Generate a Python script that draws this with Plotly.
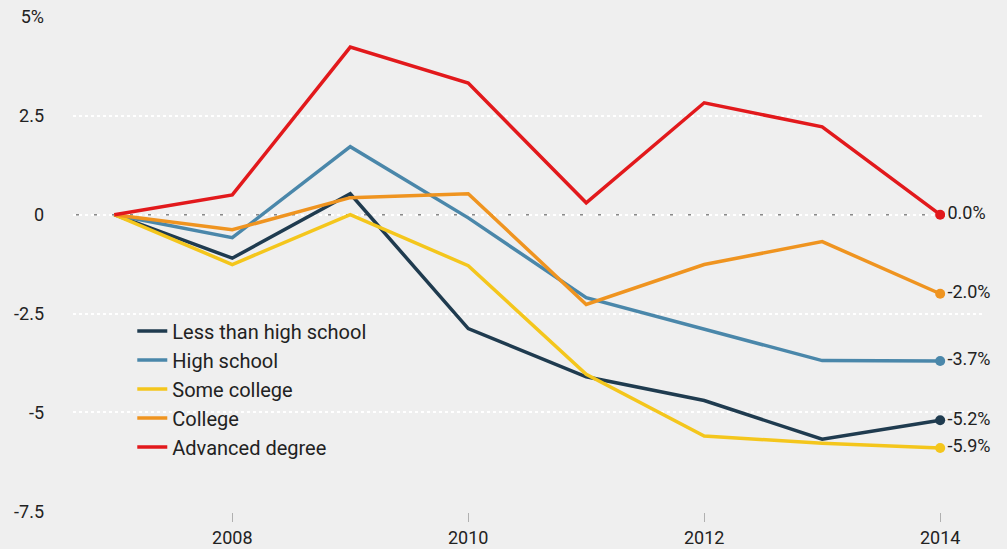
import plotly.graph_objects as go

years = [2007, 2008, 2009, 2010, 2011, 2012, 2013, 2014]

less_than_high_school = [0, -1.1, 0.53, -2.88, -4.1, -4.7, -5.68, -5.2]
high_school = [0, -0.58, 1.72, -0.08, -2.1, -2.9, -3.69, -3.7]
some_college = [0, -1.26, 0.0, -1.29, -4.04, -5.6, -5.78, -5.9]
college = [0, -0.38, 0.43, 0.53, -2.27, -1.26, -0.68, -2.0]
advanced_degree = [0, 0.5, 4.24, 3.33, 0.3, 2.83, 2.22, 0.0]

series_names = ["Less than high school", "High school", "Some college", "College", "Advanced degree"]
series_values = [less_than_high_school, high_school, some_college, college, advanced_degree]
series_colors = ["#1f3b4f", "#4a87aa", "#f4c61c", "#ef9420", "#e2191c"]

y_tick_vals = [5, 2.5, 0, -2.5, -5, -7.5]
y_tick_text = ["5%", "2.5", "0", "-2.5", "-5", "-7.5"]
x_tick_vals = [2008, 2010, 2012, 2014]

font_family = "Roboto, Open Sans, sans-serif"
x_range = [2006.65, 2014.38]

fig = go.Figure()

for name, vals, color in zip(series_names, series_values, series_colors):
    fig.add_trace(go.Scatter(
        x=years, y=vals, name=name, mode="lines",
        line=dict(color=color, width=3.5),
    ))

# end-point markers with their value labels
for name, vals, color in zip(series_names, series_values, series_colors):
    fig.add_trace(go.Scatter(
        x=[years[-1]], y=[vals[-1]], mode="markers+text",
        marker=dict(color=color, size=10),
        text=[f"{vals[-1]:.1f}%"], textposition="middle right",
        textfont=dict(size=18, color="#222222", family=font_family),
        showlegend=False, hoverinfo="skip", cliponaxis=False,
    ))

# dashed baseline at zero
fig.add_shape(type="line", xref="x", yref="y",
              x0=x_range[0], x1=years[-1], y0=0, y1=0,
              line=dict(color="#8a8a8a", width=1.5, dash="dash"), layer="below")

fig.update_layout(
    width=1007, height=549,
    margin=dict(l=73, r=22, t=17, b=37),
    paper_bgcolor="#efefef", plot_bgcolor="#efefef",
    font=dict(family=font_family, size=17, color="#222222"),
    showlegend=True,
    legend=dict(x=0.065, y=0.405, xanchor="left", yanchor="top",
                bgcolor="rgba(0,0,0,0)", font=dict(size=20, color="#222222"),
                tracegroupgap=0, itemwidth=30),
    xaxis=dict(range=x_range, tickvals=x_tick_vals, showgrid=False, zeroline=False,
               showline=False, ticks="outside", ticklen=9, tickcolor="#b0b0b0",
               tickwidth=1, tickfont=dict(size=18), automargin=False),
    yaxis=dict(range=[-7.52, 5], tickvals=y_tick_vals, ticktext=y_tick_text,
               showgrid=True, gridcolor="#ffffff", gridwidth=2, griddash="dot",
               zeroline=False, showline=False, ticks="", ticklabelstandoff=28,
               tickfont=dict(size=18), automargin=False),
)

fig.write_html("out.html")
